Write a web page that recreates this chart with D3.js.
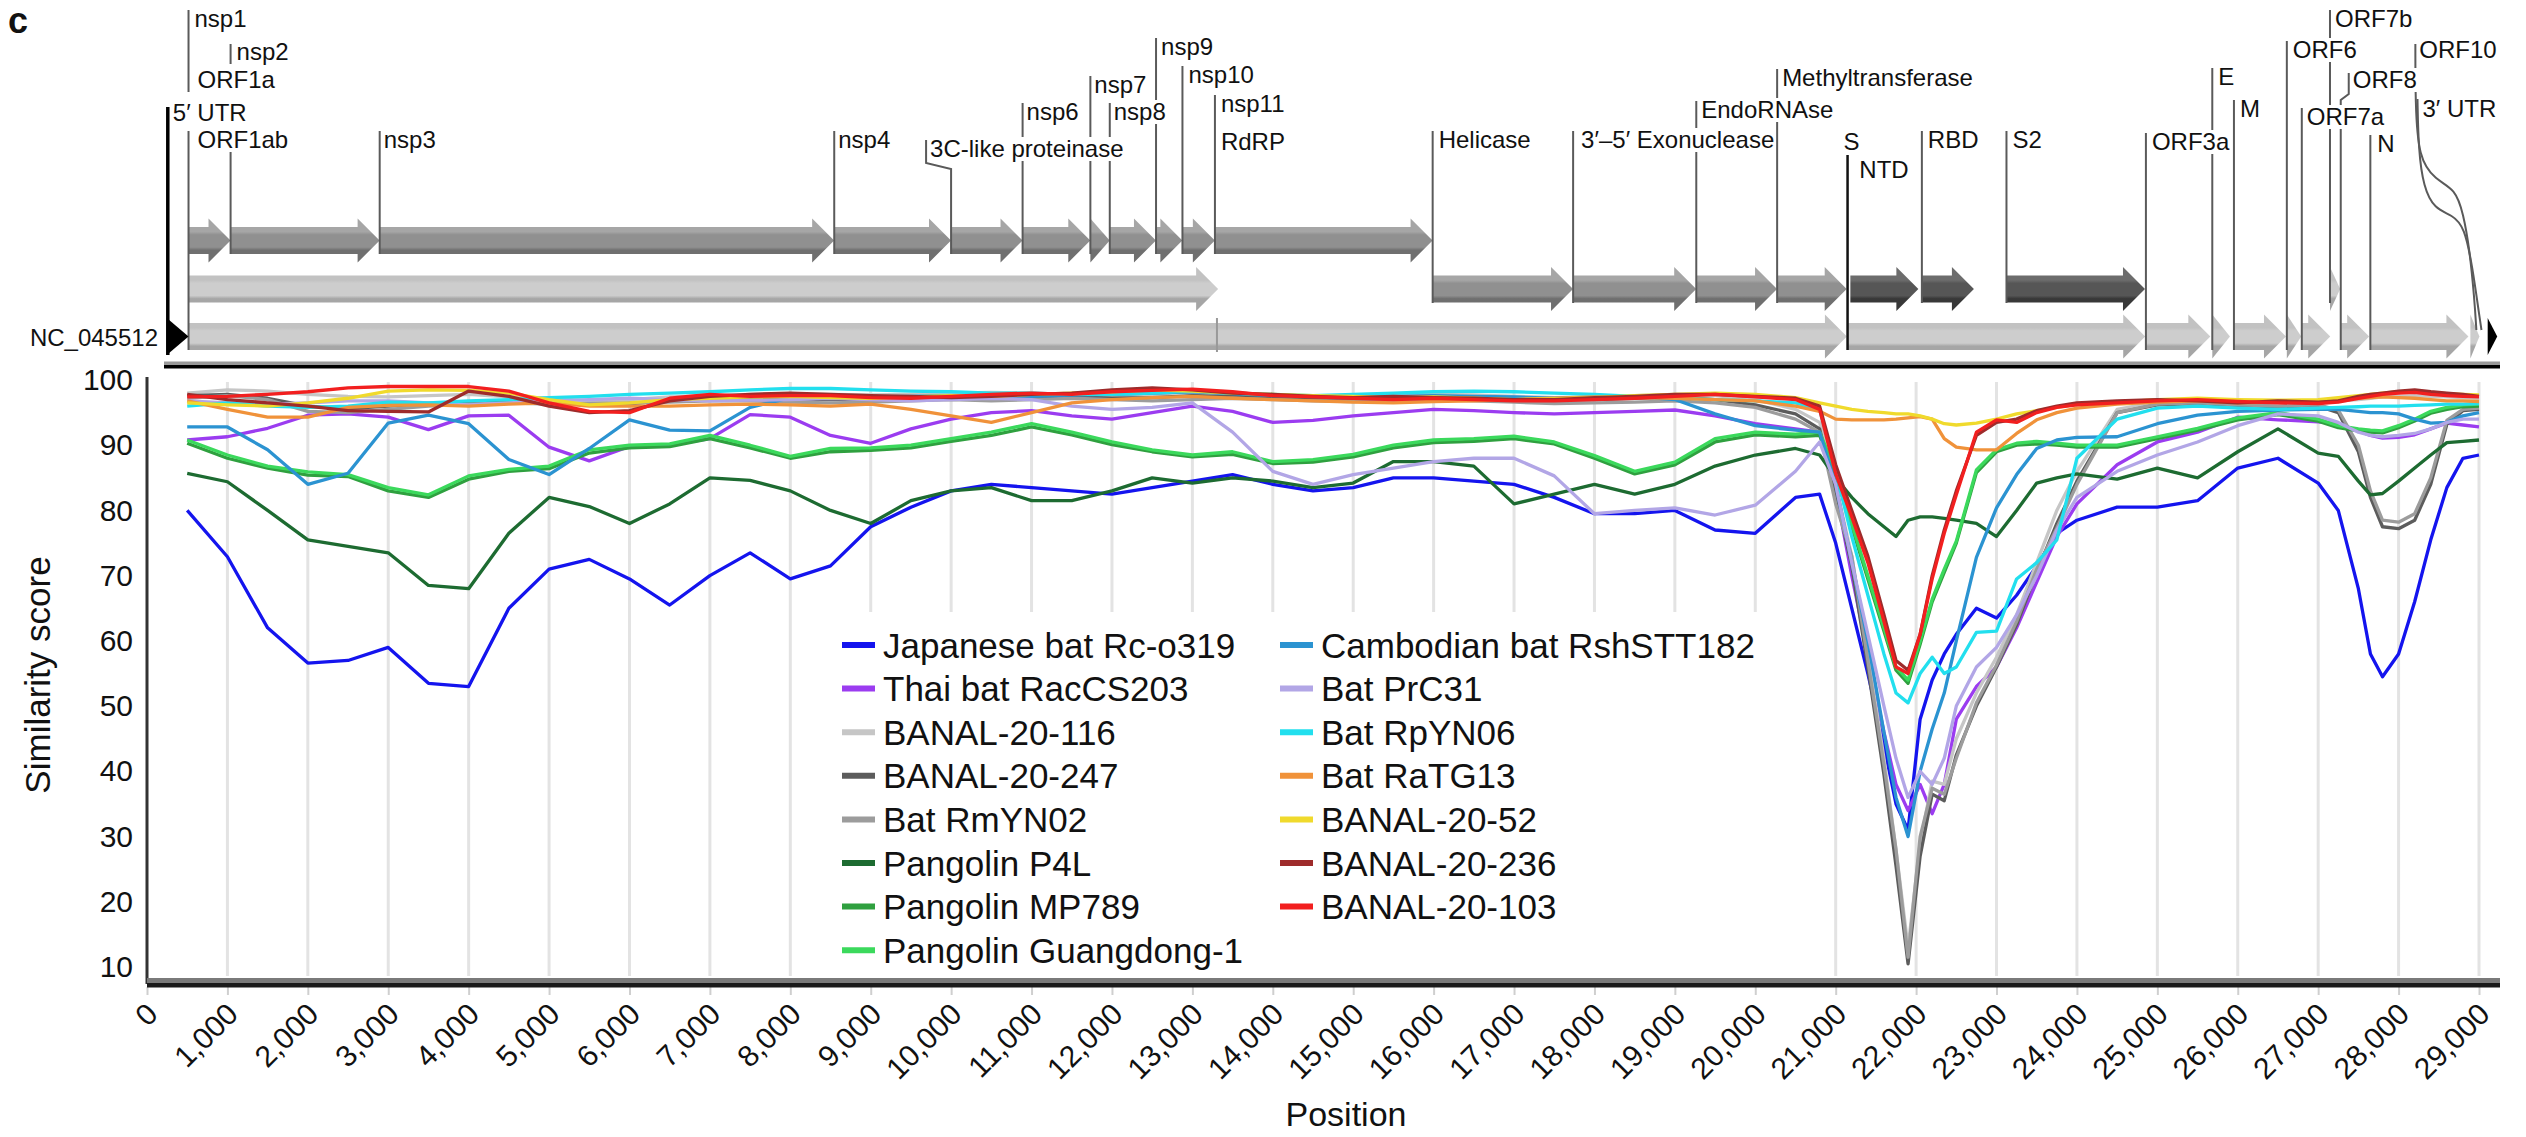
<!DOCTYPE html>
<html>
<head>
<meta charset="utf-8">
<script src="https://cdn.jsdelivr.net/npm/d3@7"></script>
<style>
html, body { margin: 0; padding: 0; background: #fff; }
svg { display: block; font-family: "Liberation Sans", Arial, sans-serif; }
</style>
</head>
<body>
<svg id="chart" width="2526" height="1137"></svg>
<script>
// ---- similarity data (window centre, nt) ----
var positions = [500, 1000, 1500, 2000, 2500, 3000, 3500, 4000, 4500, 5000,
  5500, 6000, 6500, 7000, 7500, 8000, 8500, 9000, 9500, 10000,
  10500, 11000, 11500, 12000, 12500, 13000, 13500, 14000, 14500, 15000,
  15500, 16000, 16500, 17000, 17500, 18000, 18500, 19000, 19500, 20000,
  20500, 20800, 21000, 21200, 21400, 21600, 21750, 21900, 22050, 22200,
  22350, 22500, 22750, 23000, 23250, 23500, 23750, 24000, 24500, 25000,
  25500, 26000, 26500, 27000, 27250, 27500, 27650, 27800, 28000, 28200,
  28400, 28600, 28800, 29000];

var rcO319 = [80, 72.9, 62, 56.6, 57, 59, 53.5, 53, 65, 71,
  72.5, 69.5, 65.5, 70, 73.5, 69.5, 71.5, 77.5, 80.5, 83,
  84, 83.5, 83, 82.5, 83.5, 84.5, 85.5, 84, 83, 83.5,
  85, 85, 84.5, 84, 82, 79.5, 79.5, 80, 77, 76.5,
  82, 82.5, 75, 65, 55, 44, 35, 31, 48, 54,
  58, 61, 65, 63.5, 67, 71.5, 76.5, 78.5, 80.5, 80.5,
  81.5, 86.5, 88, 84.2, 80, 68, 58, 54.5, 58, 66,
  75.5, 83.5, 88, 88.5];
var racCS203 = [90.8, 91.3, 92.6, 94.6, 94.8, 94.3, 92.4, 94.5, 94.6, 89.7,
  87.6, 89.8, 90, 91, 94.7, 94.3, 91.5, 90.3, 92.5, 94,
  95, 95.3, 94.5, 94, 95, 96, 95.2, 93.5, 93.8, 94.5,
  95, 95.5, 95.3, 95, 94.8, 95, 95.2, 95.4, 94.5, 93.3,
  92.5, 92, 83, 70, 58, 46, 38, 34, 38, 33.5,
  38, 48, 53, 56, 62, 69, 76, 81, 87, 90.5,
  92, 94.3, 93.9, 93.6, 93.3, 92.2, 91.5, 91.1, 91.2, 91.6,
  92.5, 93.4, 93.1, 92.8];
var banal116 = [98, 98.5, 98.3, 97.8, 97.5, 97.4, 97.6, 97.8, 97.4, 97.2,
  96.8, 97, 97.4, 97.6, 97.8, 97.9, 97.8, 97.7, 97.8, 98,
  98.1, 98, 97.8, 97.6, 97.8, 98.2, 98, 97.7, 97.5, 97.4,
  97.6, 97.8, 97.7, 97.5, 97.3, 97.4, 97.6, 97.8, 97.6, 97,
  95.5, 93.5, 84, 73, 58, 42, 28, 13, 29, 38.5,
  38, 45, 52, 57.5, 64, 72, 80, 86, 95.5, 96.6,
  96.8, 96.6, 96.5, 96.7, 96.8, 97, 97.2, 97.4, 97.5, 97.6,
  97.5, 97.4, 97.3, 97.2];
var banal247 = [97.6, 97.8, 97.2, 96, 95.6, 96, 96.4, 96.6, 96.8, 96.5,
  96.2, 96.4, 96.8, 97, 97.2, 97.1, 97, 97.1, 97.3, 97.5,
  97.4, 97.5, 97.4, 97.2, 97.3, 97.6, 97.5, 97.3, 97.1, 97,
  97.2, 97.4, 97.3, 97.1, 96.9, 97, 97.2, 97.4, 97, 96.2,
  94.8, 92.5, 82.5, 71.5, 56, 39.5, 25.5, 10.5, 27, 36.5,
  35.5, 42.5, 50, 56, 62.5, 70.5, 78, 84.5, 95, 96.2,
  96.4, 96.1, 95.9, 96, 95, 89, 82, 77.5, 77.2, 78.5,
  84, 93.2, 95.3, 95.5];
var rmYN02 = [97.2, 97.6, 97, 95.2, 95, 95.5, 96, 96.3, 96.5, 96.3,
  96.4, 96.5, 96.6, 96.8, 96.8, 96.6, 96.5, 96.6, 96.8, 97,
  96.8, 97, 97.2, 97, 96.8, 97, 97.2, 97, 96.8, 96.7,
  96.9, 97, 96.8, 96.6, 96.4, 96.5, 96.6, 96.8, 96.5, 95.8,
  94, 92, 81, 73, 57, 41, 28, 11.5, 30, 37.4,
  36.5, 42, 50.5, 56.3, 63, 71, 77.3, 84, 95, 96.3,
  96.5, 96.2, 96, 96.2, 95.4, 90, 83, 78.5, 78.2, 79.5,
  85, 93.8, 95.5, 95.7];
var p4l = [85.7, 84.4, 80, 75.5, 74.5, 73.5, 68.5, 68, 76.5, 82,
  80.6, 78, 81, 85, 84.6, 83, 80, 78, 81.5, 83,
  83.5, 81.5, 81.5, 83, 85, 84.2, 85, 84.5, 83.5, 84.2,
  87.5, 87.5, 86.8, 81, 82.5, 84, 82.5, 84, 86.8, 88.5,
  89.5, 88.5, 85, 82, 79.5, 77.5, 76, 78.5, 79, 79,
  78.8, 78.5, 78, 76, 80, 84.2, 85, 85.6, 84.8, 86.5,
  85, 89, 92.5, 88.8, 88.3, 84.5, 82.4, 82.6, 84.5, 86.5,
  88.5, 90.4, 90.6, 90.8];
var mp789 = [90.3, 88, 86.5, 85.4, 85.2, 83, 82, 84.8, 86, 86.4,
  88.8, 89.6, 89.8, 91, 89.6, 88, 89, 89.2, 89.6, 90.6,
  91.5, 92.8, 91.6, 90.1, 89, 88.2, 88.6, 87.2, 87.4, 88.2,
  89.6, 90.4, 90.6, 91, 90.2, 88, 85.6, 87, 90.5, 91.6,
  91.3, 91.5, 85.5, 77.5, 69.5, 61.5, 55.5, 53.5, 59.5, 66,
  70.5, 75, 85.8, 89, 90, 90.2, 90, 89.7, 89.7, 91,
  92.3, 93.9, 94.7, 93.7, 92.7, 92.2, 92, 91.9, 92.7, 93.7,
  94.9, 95.5, 95.9, 96];
var gd1 = [90.8, 88.5, 86.8, 85.9, 85.5, 83.5, 82.4, 85.3, 86.3, 86.8,
  89.3, 90, 90.2, 91.5, 90, 88.3, 89.5, 89.6, 90, 91,
  92, 93.3, 92, 90.5, 89.3, 88.5, 89, 87.5, 87.8, 88.6,
  90, 90.8, 91, 91.4, 90.5, 88.4, 86, 87.4, 91, 92,
  91.7, 92, 86, 78, 70, 62, 56, 54, 60, 66.4,
  71, 75.3, 86.2, 89.3, 90.3, 90.6, 90.3, 90, 90, 91.3,
  92.6, 94.2, 95, 94, 93, 92.5, 92.3, 92.2, 93, 94,
  95.2, 95.8, 96.2, 96.3];
var rshSTT182 = [92.8, 92.8, 89.3, 84, 85.7, 93.4, 94.6, 93.3, 87.8, 85.5,
  89.5, 93.9, 92.3, 92.2, 95.8, 97.3, 97.4, 97.4, 97.5, 97.6,
  97.4, 97.5, 97.7, 97.8, 98, 98.2, 97.9, 97.6, 97.5, 97.3,
  97.5, 97.6, 97.5, 97.4, 97.2, 97.3, 97.5, 97, 94.8, 93,
  92.3, 92, 84, 72, 60, 46, 36, 30, 40, 46.5,
  52, 60, 72.8, 80.4, 85.5, 89.5, 90.8, 91.2, 91.3, 93.3,
  94.6, 95.2, 95.4, 95.5, 95.5, 95.2, 95, 95, 94.8, 94,
  93.4, 93.5, 94.5, 95];
var prC31 = [96.8, 96.5, 96.3, 96.5, 96.8, 96.8, 96.5, 96.2, 96.5, 96.8,
  97, 97.2, 97, 96.8, 96.9, 97, 97.2, 97, 96.8, 97,
  97.2, 97, 96, 95.5, 95.8, 96.5, 92, 86, 84, 85.5,
  86.5, 87.5, 88, 88, 85.3, 79.5, 80, 80.4, 79.3, 80.8,
  86, 90.5, 84, 72, 61, 50, 42, 36, 40, 38,
  42, 50, 56, 59, 64, 70, 77, 82, 86, 88.5,
  90.5, 93, 94.8, 94.5, 93.5, 92, 91.5, 91.3, 91.5, 91.8,
  92.5, 93.5, 94, 94];
var rpYN06 = [96, 96.5, 96, 95.8, 96, 96.6, 96.5, 96.8, 97, 97.3,
  97.5, 97.8, 98, 98.2, 98.5, 98.7, 98.7, 98.5, 98.3, 98.2,
  98, 98, 97.8, 97.8, 98, 98.3, 98, 97.8, 97.6, 97.8,
  98, 98.2, 98.3, 98.2, 98, 97.8, 97.5, 97.3, 97, 96.8,
  96.5, 95.5, 86, 76, 67, 58, 52, 50.5, 55, 57.5,
  55, 56, 61.3, 61.5, 69.5, 72, 75.5, 88, 94, 95.7,
  96, 95.7, 95.5, 95.7, 95.8, 95.9, 96, 96, 96, 96.1,
  96.2, 96.3, 96.3, 96.4];
var raTG13 = [96.8, 95.5, 94.3, 94.3, 95.8, 96.1, 96.2, 96, 96.3, 96.5,
  96, 96, 96, 96.2, 96.3, 96.2, 96, 96.3, 95.5, 94.5,
  93.5, 95, 96.5, 97, 97.3, 97.5, 97.2, 97, 96.8, 96.6,
  96.5, 96.7, 96.8, 97, 97.2, 97.4, 97.3, 97.2, 97, 96.8,
  96, 95.2, 94, 93.9, 93.9, 93.9, 94, 94.2, 94.4, 94,
  91, 89.7, 89.3, 89.3, 91.8, 93.9, 95, 95.7, 96.3, 96.6,
  96.8, 96.5, 96.6, 96.8, 97, 97.2, 97.3, 97.4, 97.3, 97.2,
  97, 96.8, 96.8, 96.7];
var banal52 = [96.5, 96.2, 96, 96.5, 97.2, 98.3, 98.5, 98.4, 98, 97,
  96.2, 96.5, 97, 97.2, 97.4, 97.5, 97.3, 97.2, 97.4, 97.6,
  97.5, 97.8, 98, 98.2, 98.5, 98.3, 98, 97.8, 97.6, 97.5,
  97.3, 97.4, 97.2, 97, 97.1, 97.3, 97.6, 97.8, 98, 97.8,
  97.3, 96.5, 96, 95.5, 95.2, 95, 94.8, 94.8, 94.5, 94,
  93.3, 93.1, 93.4, 94, 94.8, 95.3, 95.8, 96.3, 96.6, 97,
  97.2, 97, 96.9, 97, 97.3, 97.6, 97.8, 98, 98.2, 98.3,
  98.1, 97.9, 97.8, 97.7];
var banal236 = [97.8, 97, 96.5, 96, 95.3, 95.2, 95.1, 98.3, 97.5, 96,
  95, 95.3, 96.8, 97.5, 97.8, 98, 97.8, 97.6, 97.5, 97.3,
  97.5, 97.8, 98, 98.5, 98.8, 98.5, 98, 97.8, 97.5, 97.3,
  97.5, 97.3, 97.2, 97, 97, 97.3, 97.5, 97.8, 97.8, 97.5,
  97.2, 96, 87, 80, 73, 64, 57, 55.5, 61, 70,
  77, 83, 91.5, 93.5, 94, 95.3, 96, 96.5, 96.8, 97,
  96.8, 96.5, 96.8, 96.6, 96.8, 97.5, 97.8, 98, 98.3, 98.5,
  98.2, 98, 97.8, 97.5];
var banal103 = [97.4, 97.5, 97.8, 98.2, 98.8, 99, 99, 99, 98.3, 96.5,
  95.2, 95, 97.2, 97.8, 97.5, 97.6, 97.6, 97.3, 97.2, 97.5,
  97.8, 98, 97.8, 98.2, 98.4, 98.6, 98.2, 97.6, 97.4, 97.2,
  97, 97.2, 97, 96.8, 96.8, 97, 97.2, 97.5, 97.8, 97.4,
  97, 95.5, 85.6, 79, 72, 63, 56, 55, 61, 69.5,
  76.5, 82.4, 92, 93.9, 93.5, 95, 95.8, 96.2, 96.5, 96.8,
  97, 96.7, 96.5, 96.4, 96.6, 97.2, 97.5, 97.8, 98, 98.1,
  97.8, 97.6, 97.5, 97.4];

var seriesNames = ["Japanese bat Rc-o319", "Thai bat RacCS203", "BANAL-20-116", "BANAL-20-247",
  "Bat RmYN02", "Pangolin P4L", "Pangolin MP789", "Pangolin Guangdong-1",
  "Cambodian bat RshSTT182", "Bat PrC31", "Bat RpYN06", "Bat RaTG13",
  "BANAL-20-52", "BANAL-20-236", "BANAL-20-103"];
var seriesValues = [rcO319, racCS203, banal116, banal247, rmYN02, p4l, mp789, gd1,
  rshSTT182, prC31, rpYN06, raTG13, banal52, banal236, banal103];

var xTicks = d3.range(0, 29001, 1000);
var yTicks = [10, 20, 30, 40, 50, 60, 70, 80, 90, 100];

// ---- genome annotation, NC_045512 (nt) ----
var genomeLength = 29903;
var blockIds = ["nsp1", "nsp2", "nsp3", "nsp4", "nsp5", "nsp6", "nsp7", "nsp8", "nsp9", "nsp10", "rdrp",
  "orf1a", "hel", "exon", "endo", "mtase", "ntd", "rbd", "s2", "orf7b",
  "orf1ab", "s", "orf3a", "e", "m", "orf6", "orf7a", "orf8", "n", "orf10"];
var blockStarts = [266, 806, 2720, 8555, 10055, 10973, 11843, 12092, 12686, 13025, 13442,
  266, 16237, 18040, 19621, 20659, 21599, 22517, 23603, 27756,
  266, 21563, 25393, 26245, 26523, 27202, 27394, 27894, 28274, 29558];
var blockEnds = [805, 2719, 8554, 10054, 10972, 11842, 12091, 12685, 13024, 13441, 16236,
  13483, 18039, 19620, 20658, 21552, 22472, 23185, 25381, 27887,
  21555, 25384, 26220, 26472, 27191, 27387, 27759, 28259, 29533, 29674];
var frameShift = 13468;

var labelTexts = ["nsp1", "nsp2", "ORF1a", "5\u2032 UTR", "ORF1ab", "nsp3", "nsp4", "3C-like proteinase",
  "nsp6", "nsp7", "nsp8", "nsp9", "nsp10", "nsp11", "RdRP", "Helicase", "3\u2032\u20135\u2032 Exonuclease",
  "EndoRNAse", "Methyltransferase", "S", "NTD", "RBD", "S2", "ORF3a", "E", "M", "ORF6", "ORF7b",
  "ORF8", "ORF7a", "N", "ORF10", "3\u2032 UTR"];
var labelSites = [266, 806, 266, 0, 266, 2720, 8555, 10055, 10973, 11843, 12092, 12686, 13025, 13442,
  13442, 16237, 18040, 19621, 20659, 21563, 21599, 22517, 23603, 25393, 26245, 26523, 27202, 27756,
  27894, 27394, 28274, 29558, 29675];

// ---- styling / layout ----
var seriesColors = ["#1414ee", "#9b3cf0", "#c6c6c6", "#5c5c5c", "#9c9c9c", "#1d6b31", "#2fa03f", "#3bd95c",
  "#2b93d1", "#b2a6e6", "#22dfee", "#f0923a", "#f0da2c", "#9e2b2b", "#f21f1f"];

var laneY = [240.5, 289, 336.5];
var laneOf = {orf1a: 1, hel: 1, exon: 1, endo: 1, mtase: 1, ntd: 1, rbd: 1, s2: 1, orf7b: 1,
  orf1ab: 2, s: 2, orf3a: 2, e: 2, m: 2, orf6: 2, orf7a: 2, orf8: 2, n: 2, orf10: 2};
var toneOf = {orf1a: "light", orf7b: "light", ntd: "dark", rbd: "dark", s2: "dark",
  orf1ab: "light", s: "light", orf3a: "light", e: "light", m: "light", orf6: "light",
  orf7a: "light", orf8: "light", n: "light", orf10: "light"};
var tones = {
  light: ["#c2c2c2", "#cdcdcd", "#a6a6a6"],
  mid: ["#a6a6a6", "#909090", "#6f6f6f"],
  dark: ["#6c6c6c", "#565656", "#383838"]
};
var labelLayout = [
  {y: 27, dx: 6, top: 10, bot: 92},
  {y: 60, dx: 6, top: 44, bot: 254, gap: [64, 152]},
  {y: 88, dx: 9},
  {y: 121, dx: 5, top: 107, bot: 355, w: 3.5, c: "#000"},
  {y: 148, dx: 9, top: 131, bot: 350},
  {y: 148, dx: 4, top: 131, bot: 254},
  {y: 148, dx: 4, top: 131, bot: 254},
  {y: 157, dx: -21, top: 140, bot: 254, kink: true},
  {y: 120, dx: 4, top: 103, bot: 254},
  {y: 93, dx: 4, top: 76, bot: 254},
  {y: 120, dx: 4, top: 103, bot: 254},
  {y: 55, dx: 5, top: 38, bot: 254},
  {y: 83, dx: 6, top: 66, bot: 254},
  {y: 112, dx: 6, top: 95, bot: 254},
  {y: 150, dx: 6},
  {y: 148, dx: 6, top: 131, bot: 303},
  {y: 148, dx: 8, top: 131, bot: 303},
  {y: 118, dx: 5, top: 101, bot: 303},
  {y: 86, dx: 5, top: 69, bot: 303},
  {y: 150, dx: -4, top: 155, bot: 350, c: "#111", w: 2.5},
  {y: 178, dx: 9},
  {y: 148, dx: 6, top: 131, bot: 303},
  {y: 148, dx: 6, top: 131, bot: 303},
  {y: 150, dx: 6, top: 133, bot: 350},
  {y: 85, dx: 6, top: 68, bot: 350},
  {y: 117, dx: 6, top: 100, bot: 350},
  {y: 58, dx: 6, top: 41, bot: 350},
  {y: 27, dx: 5, top: 10, bot: 303},
  {y: 88, dx: 12, top: 73, bot: 350, kink: true},
  {y: 125, dx: 5, top: 108, bot: 350},
  {y: 152, dx: 7, top: 135, bot: 350},
  {y: 58, dx: -51, curve: [[-4, -14], [-4, 45], [-1, 100], [16, 122], [36, 131], [44, 156], [50, 190], [55, 240], [57, 272]]},
  {y: 117, dx: -57, curve: [[-5, -18], [-4, 33], [1, 70], [12, 92], [30, 98], [42, 110], [50, 150], [57, 200], [59, 213]]}
];

var svg = d3.select("#chart");
var defs = svg.append("defs");

// ---------- genome map ----------
var gx = d3.scaleLinear().domain([0, genomeLength]).range([167.8, 167.8 + genomeLength * 0.0779]);
var bodyH = 13.5, headH = 22, headL = 22;

laneY.forEach(function (cy, li) {
  Object.keys(tones).forEach(function (t) {
    var g = defs.append("linearGradient").attr("id", "g" + li + t)
      .attr("gradientUnits", "userSpaceOnUse")
      .attr("x1", 0).attr("x2", 0).attr("y1", cy - headH).attr("y2", cy + headH);
    var c = tones[t];
    [[0, c[0]], [0.30, c[0]], [0.37, c[1]], [0.65, c[1]], [0.72, c[2]], [1, c[2]]].forEach(function (s) {
      g.append("stop").attr("offset", s[0]).attr("stop-color", s[1]);
    });
  });
});

function arrowPath(x0, x1, cy) {
  var h = Math.min(headL, x1 - x0), xh = x1 - h;
  return "M" + x0 + "," + (cy - bodyH) + "H" + xh + "V" + (cy - headH) + "L" + x1 + "," + cy +
    "L" + xh + "," + (cy + headH) + "V" + (cy + bodyH) + "H" + x0 + "Z";
}

var map = svg.append("g").attr("class", "genome");
var blocks = blockIds.map(function (id, i) {
  return {id: id, start: blockStarts[i], end: blockEnds[i], lane: laneOf[id] || 0, tone: toneOf[id] || "mid"};
});
map.selectAll("path.block").data(blocks).enter().append("path")
  .attr("class", "block")
  .attr("d", function (d) { return arrowPath(gx(d.start), gx(d.end), laneY[d.lane]); })
  .attr("fill", function (d) { return "url(#g" + d.lane + d.tone + ")"; });

map.append("line")
  .attr("x1", gx(frameShift)).attr("x2", gx(frameShift))
  .attr("y1", laneY[2] - bodyH - 5).attr("y2", laneY[2] + bodyH + 2)
  .attr("stroke", "#999").attr("stroke-width", 2);

// leader lines
var curveLine = d3.line().curve(d3.curveBasis);
labelTexts.forEach(function (t, i) {
  var L = labelLayout[i], fx = gx(labelSites[i]), tx = fx + L.dx;
  var col = L.c || "#5a5a5a", w = L.w || 2;
  if (L.curve) {
    map.append("path")
      .attr("d", curveLine(L.curve.map(function (p) { return [tx + p[0], L.y + p[1]]; })))
      .attr("fill", "none").attr("stroke", col).attr("stroke-width", w);
    return;
  }
  if (L.top === undefined) return;
  var pts;
  if (L.kink) {
    pts = [[tx - 4, L.top], [tx - 4, L.y + 6], [fx, L.y + 12], [fx, L.bot]];
  } else {
    pts = [[fx, L.top], [fx, L.bot]];
  }
  if (L.gap) {
    map.append("line").attr("x1", fx).attr("x2", fx).attr("y1", L.top).attr("y2", L.gap[0])
      .attr("stroke", col).attr("stroke-width", w);
    map.append("line").attr("x1", fx).attr("x2", fx).attr("y1", L.gap[1]).attr("y2", L.bot)
      .attr("stroke", col).attr("stroke-width", w);
    return;
  }
  map.append("path").attr("d", d3.line()(pts))
    .attr("fill", "none").attr("stroke", col).attr("stroke-width", w);
});

// labels with white backing so they interrupt leaders
labelTexts.forEach(function (t, i) {
  var L = labelLayout[i], tx = gx(labelSites[i]) + L.dx;
  var g = map.append("g");
  var r = g.append("rect").attr("fill", "#fff");
  var txt = g.append("text").attr("x", tx).attr("y", L.y)
    .attr("font-size", 24).attr("fill", "#111").text(t);
  var bb = txt.node().getBBox();
  r.attr("x", bb.x - 1).attr("y", bb.y + 2).attr("width", bb.width + 2).attr("height", bb.height - 3);
});

// genome start/end markers and baseline
map.append("polygon")
  .attr("points", [[gx(0) - 1, 318], [gx(266), 336.5], [gx(0) - 1, 355]].join(" "))
  .attr("fill", "#000");
map.append("polygon")
  .attr("points", [[gx(29780), 318], [gx(genomeLength), 336.5], [gx(29780), 355]].join(" "))
  .attr("fill", "#000");
map.append("rect").attr("x", 164).attr("y", 361.5).attr("width", 2336).attr("height", 3.5).attr("fill", "#9a9a9a");
map.append("rect").attr("x", 164).attr("y", 365).attr("width", 2336).attr("height", 3.5).attr("fill", "#000");

map.append("text").attr("x", 158).attr("y", 346).attr("text-anchor", "end")
  .attr("font-size", 24).attr("fill", "#111").text("NC_045512");

svg.append("text").attr("x", 8).attr("y", 33).attr("font-size", 36).attr("font-weight", "bold")
  .attr("fill", "#111").text("c");

// ---------- similarity plot ----------
var x = d3.scaleLinear().domain([0, 29000]).range([147, 2479]);
var y = d3.scaleLinear().domain([10, 100]).range([967, 380]);

var plot = svg.append("g").attr("class", "plot");

plot.selectAll("line.grid").data(xTicks.slice(1)).enter().append("line")
  .attr("class", "grid")
  .attr("x1", function (d) { return x(d); }).attr("x2", function (d) { return x(d); })
  .attr("y1", 382).attr("y2", 976)
  .attr("stroke", "#e3e3e3").attr("stroke-width", 3);

// legend backdrop covers the grid
plot.append("rect").attr("x", 800).attr("y", 612).attr("width", 990).attr("height", 364).attr("fill", "#fff");

var line = d3.line()
  .x(function (d, i) { return x(positions[i]); })
  .y(function (d) { return y(d); });

plot.selectAll("path.series").data(seriesValues).enter().append("path")
  .attr("class", "series")
  .attr("d", line)
  .attr("fill", "none")
  .attr("stroke", function (d, i) { return seriesColors[i]; })
  .attr("stroke-width", 3.3)
  .attr("stroke-linejoin", "round");

// y axis
var yAxis = d3.axisLeft(y).tickValues(yTicks).tickSize(0).tickPadding(14);
var yg = plot.append("g").attr("transform", "translate(147,0)").call(yAxis);
yg.select(".domain").remove();
yg.selectAll("text").attr("font-size", 30).attr("fill", "#111")
  .attr("font-family", "Liberation Sans, Arial, sans-serif");
plot.append("line").attr("x1", 147).attr("x2", 147).attr("y1", 377).attr("y2", 984)
  .attr("stroke", "#333").attr("stroke-width", 3);

// x axis
var xAxis = d3.axisBottom(x).tickValues(xTicks).tickSize(8).tickFormat(d3.format(","));
var xg = plot.append("g").attr("transform", "translate(0,987)").call(xAxis);
xg.select(".domain").remove();
xg.selectAll(".tick line").attr("stroke", "#cfcfcf").attr("stroke-width", 2);
xg.selectAll(".tick text")
  .attr("x", null).attr("y", null).attr("dy", null)
  .attr("transform", "translate(12,29) rotate(-45)")
  .attr("text-anchor", "end")
  .attr("font-size", 30).attr("fill", "#111")
  .attr("font-family", "Liberation Sans, Arial, sans-serif");
plot.append("rect").attr("x", 147).attr("y", 978).attr("width", 2353).attr("height", 5).attr("fill", "#7a7a7a");
plot.append("rect").attr("x", 147).attr("y", 983).attr("width", 2353).attr("height", 4.5).attr("fill", "#1a1a1a");

// axis titles
plot.append("text").attr("transform", "translate(50,675) rotate(-90)")
  .attr("text-anchor", "middle").attr("font-size", 35).attr("fill", "#111").text("Similarity score");
plot.append("text").attr("x", 1346).attr("y", 1126)
  .attr("text-anchor", "middle").attr("font-size", 34).attr("fill", "#111").text("Position");

// legend
var legendCols = [842, 1280], legendRow0 = 645, legendStep = 43.6, legendRows = 8;
var leg = plot.selectAll("g.leg").data(seriesNames).enter().append("g")
  .attr("class", "leg")
  .attr("transform", function (d, i) {
    var c = Math.floor(i / legendRows), r = i % legendRows;
    return "translate(" + legendCols[c] + "," + (legendRow0 + r * legendStep) + ")";
  });
leg.append("line").attr("x1", 0).attr("x2", 33).attr("y1", 0).attr("y2", 0)
  .attr("stroke", function (d, i) { return seriesColors[i]; }).attr("stroke-width", 6);
leg.append("text").attr("x", 41).attr("y", 0).attr("dy", "0.36em")
  .attr("font-size", 35).attr("fill", "#111").text(function (d) { return d; });
</script>
</body>
</html>
